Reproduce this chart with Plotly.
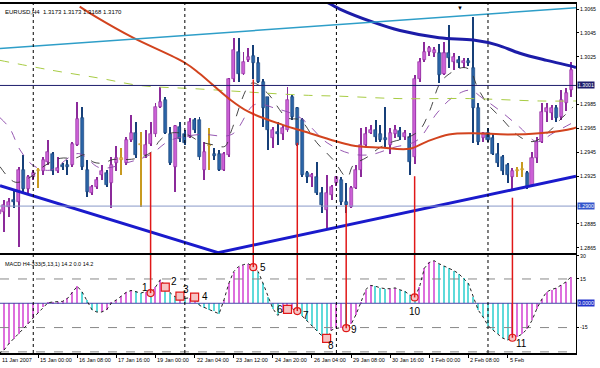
import plotly.graph_objects as go

N = 118
bars = list(range(N))

opens = [1.2893,1.2895,1.2899,1.2905,1.2903,1.2930,1.2914,1.2924,1.2929,1.2929,
         1.2937,1.2944,1.2929,1.2934,1.2934,1.2934,1.2951,1.2974,1.2930,1.2911,
         1.2916,1.2926,1.2928,1.2919,1.2936,1.2939,1.2936,1.2955,1.2961,1.2951,
         1.2943,1.2952,1.2960,1.2983,1.2989,1.2960,1.2933,1.2966,1.2960,1.2958,
         1.2972,1.2972,1.2930,1.2950,1.2944,1.2944,1.2930,1.2943,1.3006,1.3029,
         1.3011,1.3022,1.3026,1.3020,1.3004,1.2991,1.2957,1.2962,1.2960,1.2964,
         1.2991,1.2982,1.2972,1.2928,1.2924,1.2924,1.2911,1.2897,1.2909,1.2919,
         1.2922,1.2903,1.2899,1.2915,1.2930,1.2951,1.2961,1.2964,1.2960,1.2957,
         1.2951,1.2960,1.2963,1.2958,1.2958,1.2941,1.3006,1.3022,1.3029,1.3028,
         1.3028,1.3011,1.3028,1.3021,1.3022,1.3020,1.3021,1.3016,1.2982,1.2957,
         1.2961,1.2957,1.2944,1.2941,1.2934,1.2924,1.2929,1.2930,1.2928,1.2918,
         1.2940,1.2954,1.2979,1.2978,1.2982,1.2975,1.2986,1.2997]
highs = [1.2901,1.2905,1.2907,1.2914,1.2933,1.2943,1.2926,1.2930,1.2932,1.2941,
         1.2955,1.2945,1.2941,1.2936,1.2939,1.2954,1.2987,1.2983,1.2939,1.2918,
         1.2924,1.2934,1.2930,1.2941,1.2950,1.2949,1.2958,1.2976,1.2970,1.2962,
         1.2964,1.2970,1.2986,1.3000,1.2991,1.2966,1.2968,1.2970,1.2964,1.2974,
         1.2974,1.2975,1.2954,1.2965,1.2949,1.2947,1.2945,1.3007,1.3041,1.3041,
         1.3029,1.3032,1.3035,1.3025,1.3006,1.2991,1.2966,1.2970,1.2968,1.3000,
         1.2993,1.2983,1.2974,1.2929,1.2928,1.2937,1.2916,1.2926,1.2918,1.2925,
         1.2924,1.2919,1.2917,1.2934,1.2965,1.2966,1.2968,1.2972,1.2968,1.2983,
         1.2965,1.2968,1.2966,1.2964,1.2961,1.3010,1.3024,1.3037,1.3034,1.3033,
         1.3036,1.3037,1.3052,1.3028,1.3026,1.3024,1.3024,1.3058,1.2986,1.2962,
         1.2965,1.2961,1.2953,1.2943,1.2936,1.2932,1.2933,1.2937,1.2929,1.2945,
         1.2958,1.2986,1.2986,1.2985,1.2985,1.2997,1.2999,1.3021]
lows = [1.2884,1.2878,1.2891,1.2898,1.2866,1.2911,1.2911,1.2922,1.2915,1.2926,
        1.2934,1.2926,1.2928,1.2930,1.2926,1.2933,1.2950,1.2930,1.2908,1.2909,
        1.2914,1.2922,1.2916,1.2898,1.2929,1.2926,1.2934,1.2954,1.2940,1.2899,
        1.2940,1.2950,1.2958,1.2982,1.2960,1.2934,1.2912,1.2954,1.2951,1.2957,
        1.2961,1.2939,1.2922,1.2930,1.2939,1.2929,1.2929,1.2941,1.3004,1.3004,
        1.3010,1.3021,1.3006,1.3003,1.2966,1.2947,1.2949,1.2951,1.2955,1.2962,
        1.2972,1.2950,1.2924,1.2919,1.2916,1.2909,1.2894,1.2882,1.2905,1.2917,
        1.2901,1.2894,1.2898,1.2914,1.2924,1.2950,1.2960,1.2954,1.2954,1.2949,
        1.2944,1.2957,1.2955,1.2955,1.2926,1.2935,1.3004,1.3021,1.3026,1.3025,
        1.3003,1.3010,1.3016,1.3014,1.3016,1.3016,1.3017,1.2953,1.2951,1.2954,
        1.2954,1.2943,1.2933,1.2926,1.2919,1.2914,1.2924,1.2924,1.2914,1.2916,
        1.2936,1.2953,1.2970,1.2972,1.2970,1.2972,1.2980,1.2991]
closes = [1.2897,1.2901,1.2903,1.2903,1.2930,1.2914,1.2924,1.2928,1.2930,1.2939,
          1.2945,1.2929,1.2932,1.2933,1.2933,1.2952,1.2973,1.2933,1.2912,1.2916,
          1.2922,1.2929,1.2918,1.2934,1.2940,1.2940,1.2955,1.2961,1.2943,1.2952,
          1.2951,1.2960,1.2983,1.2987,1.2961,1.2936,1.2967,1.2956,1.2953,1.2970,
          1.2964,1.2941,1.2945,1.2951,1.2942,1.2930,1.2944,1.3006,1.3031,1.3011,
          1.3021,1.3025,1.3020,1.3004,1.2982,1.2964,1.2964,1.2960,1.2965,1.2989,
          1.2975,1.2951,1.2926,1.2924,1.2926,1.2911,1.2901,1.2911,1.2916,1.2924,
          1.2903,1.2901,1.2915,1.2930,1.2951,1.2960,1.2964,1.2958,1.2955,1.2955,
          1.2961,1.2964,1.2958,1.2961,1.2937,1.3006,1.3021,1.3029,1.3032,1.3031,
          1.3010,1.3028,1.3024,1.3025,1.3020,1.3021,1.3020,1.2982,1.2954,1.2961,
          1.2955,1.2944,1.2936,1.2929,1.2926,1.2929,1.2930,1.2931,1.2916,1.2940,
          1.2954,1.2979,1.2982,1.2982,1.2974,1.2989,1.2995,1.3014]
candle_kind = ("mmmbmbmmgm" "mbmbbmmbbm" "mmbmmgmmbg" "mmmmbbmbbm" "bbmgbbmmmb"
               "mmbbbbmbmm" "bbbbmbbmmm" "bbmmmmmbbb" "mmbmbmmmmm" "bmbmbmbbbm"
               "bbbbbmggbm" "mmmmbmmm")

macd = [-31,-29,-25,-22,-19,-15.5,-12.5,-9,-6,-2.5,
        0.3,0.8,0.8,1.2,3,7,10.5,7,1.9,-4,
        -5.4,-5.4,-4,0.2,2.1,4.2,6.7,7.9,7.3,6.3,
        7.2,6.3,10,14.5,11,6.5,4,4.4,3,3.5,
        3.8,-1.3,-2.7,-4,-5,-6.5,2,12.3,19.6,22.7,
        23.9,24.4,22.3,19.6,12.3,4,-3.3,-7.5,-5,-3.8,
        -3.5,-4.8,-8,-11,-14,-17,-20,-21.7,-16.5,-15.5,
        -15,-15.4,-13,-7,0.5,8.5,11,10.5,9.5,9,
        9,9.5,8.3,7.3,5.2,3.6,10.2,21.7,25.2,26.3,
        24.4,23.1,21.7,20.2,18.3,15.4,12.3,4,-4.2,-8.5,
        -13.8,-16.5,-19,-21.5,-22.7,-21.3,-20.6,-19,-15.8,-10.6,
        -3.3,2.5,7,8.5,9.4,11.2,13.3,16.4]

date_tick_bars = [0, 8, 16, 24, 32, 40, 48, 56, 64, 72, 80, 88, 96, 104]
date_tick_labels = ["11 Jan 2007", "15 Jan 00:00", "16 Jan 08:00", "17 Jan 16:00",
                    "19 Jan 00:00", "22 Jan 04:00", "23 Jan 12:00", "24 Jan 20:00",
                    "26 Jan 04:00", "29 Jan 08:00", "30 Jan 16:00", "1 Feb 00:00",
                    "2 Feb 08:00", "5 Feb"]
separator_bars = [7, 38, 69, 100]
price_ticks = [1.2865, 1.2885, 1.2925, 1.2945, 1.2965, 1.2985, 1.3025, 1.3045, 1.3065]

red_ma_x = [16.5, 20, 27.4, 38, 41, 47, 51, 58, 62, 72, 78, 84, 87.5, 92, 97, 104, 110.5, 117.4, 118]
red_ma_y = [1.3067, 1.3058, 1.3041, 1.3020, 1.3011, 1.2990, 1.2979, 1.2968, 1.2963, 1.2951,
            1.2949, 1.2948, 1.2954, 1.2960, 1.2961, 1.2960, 1.2961, 1.2965, 1.2966]
navy_ma_x = [65.5, 66.5, 69.7, 76.5, 82, 90, 97, 101.8, 106.5, 112, 117.2, 118]
navy_ma_y = [1.3074, 1.3072, 1.3065, 1.3054, 1.3047, 1.3041, 1.3039, 1.3035, 1.3028, 1.3022, 1.3017, 1.3016]
green_ma_x = [0.2, 10.4, 20.7, 28.8, 41.1, 61.6, 69.7, 82, 96.3, 110.6, 118]
green_ma_y = [1.3022, 1.3014, 1.3007, 1.3001, 1.2998, 1.2993, 1.2992, 1.2990, 1.2990, 1.2988, 1.2988]
fast_ma_x = [0.2, 3.3, 6.3, 9.4, 12.5, 15.5, 17.6, 19.2, 21.3, 23.3, 26.4, 28.2, 31.1, 32.9, 35.0,
             38.4, 41.1, 44.2, 46.2, 47.6, 51.7, 54.8, 58.9, 61.6, 65.0, 68.3, 71.2, 72.4, 75.3,
             77.9, 80.6, 83.4, 86.1, 88.1, 90.2, 92.2, 94.9, 96.3, 97.8, 99.8, 102.4, 106.5,
             109.2, 112.1, 114.7, 117.4]
fast_ma_y = [1.2933, 1.2920, 1.2924, 1.2934, 1.2940, 1.2940, 1.2943, 1.2937, 1.2936, 1.2939, 1.2939,
             1.2940, 1.2945, 1.2955, 1.2961, 1.2960, 1.2954, 1.2951, 1.2950, 1.2964, 1.3003, 1.2995,
             1.2974, 1.2972, 1.2953, 1.2939, 1.2924, 1.2934, 1.2941, 1.2949, 1.2954, 1.2957, 1.2964,
             1.2980, 1.3003, 1.3011, 1.3016, 1.3014, 1.3000, 1.2986, 1.2975, 1.2958, 1.2954, 1.2961,
             1.2972, 1.2983]
slow_ma_x = [0.2, 2.2, 4.3, 7.0, 10.4, 16.2, 20.7, 26.8, 30.9, 35.0, 41.1, 47.6, 52.3, 56.4, 61.6,
             67.1, 71.8, 75.9, 80.6, 85.5, 89.6, 92.8, 96.3, 99.0, 102.4, 106.5, 110.0, 113.3, 117.4]
slow_ma_y = [1.2974, 1.2965, 1.2947, 1.2934, 1.2930, 1.2944, 1.2932, 1.2937, 1.2943, 1.2955, 1.2960,
             1.2960, 1.2985, 1.2982, 1.2974, 1.2953, 1.2944, 1.2943, 1.2949, 1.2955, 1.2978, 1.2991,
             1.2997, 1.2990, 1.2980, 1.2966, 1.2954, 1.2961, 1.2970]
cyan_line_x = [0.2, 118.0]
cyan_line_y = [1.3032, 1.3066]
support_x = [0.2, 44.8, 118.0]
support_y = [1.2917, 1.2861, 1.2925]
bid_level = 1.3001
low_level = 1.2900

signal_bars = [31, 52, 61, 71, 85, 105]
signal_price = [1.2945, 1.3006, 1.2953, 1.2901, 1.2925, 1.2907]
signal_macd = [6.3, 22.3, -4.8, -15.4, 3.6, -21.3]

marker_bars = [31, 34, 37, 40, 52, 59, 61, 67, 71, 85, 105]
marker_vals = [6.3, 10, 4.4, 3.8, 22.3, -3.8, -4.8, -21.7, -15.4, 3.6, -21.3]
marker_shapes = ["circle", "square", "square", "square", "circle", "square",
                 "circle", "square", "circle", "circle", "circle"]
marker_labels = ["1", "2", "3", "4", "5", "6", "7", "8", "9", "10", "11"]
label_offsets = [(-6, 6), (9, 6), (6, 7), (10, 1), (10, 0), (-8, 0),
                 (9, -4), (4, -7), (8, -1), (0, -14), (9, -6)]

FONT = "Liberation Sans, Arial, sans-serif"
FILL = {"m": "#cc60d6", "b": "#2a64a6", "g": "#e8b84a"}
EDGE = {"m": "#8b2a9a", "b": "#163f78", "g": "#c89a20"}

fig = go.Figure()

fig.add_trace(go.Bar(x=bars, base=lows, y=[h - l for h, l in zip(highs, lows)],
                     width=0.2, marker=dict(color=[EDGE[k] for k in candle_kind], line=dict(width=0)),
                     xaxis="x", yaxis="y", hoverinfo="skip"))
fig.add_trace(go.Bar(x=bars, base=[min(o, c) for o, c in zip(opens, closes)],
                     y=[max(abs(c - o), 0.00012) for o, c in zip(opens, closes)],
                     width=0.62,
                     marker=dict(color=[FILL[k] for k in candle_kind],
                                 line=dict(color=[EDGE[k] for k in candle_kind], width=0.6)),
                     xaxis="x", yaxis="y", hoverinfo="skip"))

def line(x, y, color, width, dash="solid", shape="linear", xa="x", ya="y"):
    fig.add_trace(go.Scatter(x=x, y=y, mode="lines", line=dict(color=color, width=width, dash=dash, shape=shape),
                             xaxis=xa, yaxis=ya, hoverinfo="skip"))

line(slow_ma_x, slow_ma_y, "#8a45a8", 0.9, "dash", "spline")
line(fast_ma_x, fast_ma_y, "#333333", 0.9, "dash", "spline")
line(green_ma_x, green_ma_y, "#a8cc44", 1, "dash", "spline")
line(red_ma_x, red_ma_y, "#d2431e", 2, "solid", "spline")
line(navy_ma_x, navy_ma_y, "#1c1ca8", 3, "solid", "spline")
line(cyan_line_x, cyan_line_y, "#2e9ec8", 1.5)
line(support_x, support_y, "#1a1acc", 3)
line([0.2, 118], [bid_level, bid_level], "#1c1c6c", 1)
line([0.2, 118], [low_level, low_level], "#8898c8", 1)

hist_colors = ["#dd6fdd" if (i == 0 or macd[i] >= macd[i - 1]) else "#5fdada" for i in range(N)]
fig.add_trace(go.Bar(x=bars, y=macd, width=0.22, marker=dict(color=hist_colors, line=dict(width=0)),
                     xaxis="x2", yaxis="y2", hoverinfo="skip"))
for lv in (15, -15, -30):
    line([0.2, 118], [lv, lv], "#888888", 1, "dash", xa="x2", ya="y2")
line([0.2, 118], [0, 0], "#4848a8", 1, xa="x2", ya="y2")
line(bars, macd, "#222222", 1, "dot", xa="x2", ya="y2")

shapes = []
for b in separator_bars:
    shapes.append(dict(type="line", xref="x", yref="paper", x0=b, x1=b, y0=0, y1=1,
                       line=dict(color="black", width=1, dash="dot")))
for b, p, v in zip(signal_bars, signal_price, signal_macd):
    shapes.append(dict(type="line", xref="x", yref="y", x0=b, x1=b, y0=p, y1=1.2850,
                       line=dict(color="#e01818", width=1.5)))
    shapes.append(dict(type="line", xref="x2", yref="y2", x0=b, x1=b, y0=31, y1=v,
                       line=dict(color="#e01818", width=1.5)))

for shp in ("circle", "square"):
    xs = [b for b, s in zip(marker_bars, marker_shapes) if s == shp]
    ys = [v for v, s in zip(marker_vals, marker_shapes) if s == shp]
    fig.add_trace(go.Scatter(x=xs, y=ys, mode="markers",
                             marker=dict(symbol=shp, size=7 if shp == "circle" else 8, color="#f6c4c4",
                                         line=dict(color="#e01818", width=1.2)),
                             xaxis="x2", yaxis="y2", hoverinfo="skip"))

ann = []
for b, v, t, (dx, dy) in zip(marker_bars, marker_vals, marker_labels, label_offsets):
    ann.append(dict(x=b, y=v, xref="x2", yref="y2", text=t, showarrow=False, xshift=dx, yshift=dy,
                    font=dict(family=FONT, size=10, color="black")))
for b, t in zip(date_tick_bars, date_tick_labels):
    ann.append(dict(x=max(b, 0.3), y=0, xref="x2", yref="paper", text=t, showarrow=False, xanchor="left",
                    yanchor="top", xshift=0, yshift=-2, font=dict(family=FONT, size=5.5, color="black")))
ann.append(dict(x=0, y=1, xref="paper", yref="paper", xanchor="left", yanchor="top", xshift=3, yshift=-3,
                text="EURUSD,H4  1.3173 1.3173 1.3168 1.3170", showarrow=False,
                font=dict(family=FONT, size=6, color="black")))
ann.append(dict(x=0, y=0.2808, xref="paper", yref="paper", xanchor="left", yanchor="top", xshift=3, yshift=-4,
                text="MACD H4-333(5,13,1) 14.2 0.0 14.2", showarrow=False,
                font=dict(family=FONT, size=5.5, color="black")))
for val, txt, bg, yr in ((bid_level, "1.3001", "#1c1c6c", "y"), (low_level, "1.2900", "#3355cc", "y"), (0, "0.0000", "#2233cc", "y2")):
    ann.append(dict(x=1, y=val, xref="paper", yref=yr, xanchor="left", text=txt, showarrow=False, xshift=1,
                    bgcolor=bg, borderpad=0, font=dict(family=FONT, size=5.2, color="white")))
ann.append(dict(x=94.3, y=1, xref="x", yref="paper", yanchor="top", text="▼", showarrow=False, yshift=1,
                font=dict(family=FONT, size=6, color="black")))

axis_common = dict(showgrid=False, zeroline=False, automargin=False)
fig.update_layout(
    width=600, height=368, margin=dict(l=0, r=24, t=4, b=15, autoexpand=False),
    paper_bgcolor="white", plot_bgcolor="white", showlegend=False,
    barmode="overlay", bargap=0, shapes=shapes, annotations=ann,
    xaxis=dict(domain=[0, 1], range=[0.2, 118.0], anchor="y", showticklabels=False, ticks="",
               showline=True, mirror=True, linecolor="black", linewidth=1.5, **axis_common),
    yaxis=dict(domain=[0.2865, 1], range=[1.28607, 1.30692], side="right", anchor="x",
               tickvals=price_ticks, tickformat=".4f", ticks="outside", ticklen=2, tickcolor="black",
               tickfont=dict(family=FONT, size=5.2, color="black"),
               showline=True, linecolor="black", linewidth=1, **axis_common),
    xaxis2=dict(domain=[0, 1], range=[0.2, 118.0], anchor="y2", tickvals=date_tick_bars, showticklabels=False,
                ticks="outside", ticklen=3, tickcolor="black",
                showline=True, mirror=True, linecolor="black", linewidth=1.5, **axis_common),
    yaxis2=dict(domain=[0, 0.2808], range=[-30.7, 29.8], side="right", anchor="x2",
                tickvals=[29.2, 15, -15], ticktext=["30", "15", "-15"], ticks="outside", ticklen=2, tickcolor="black",
                tickfont=dict(family=FONT, size=5.2, color="black"),
                showline=True, linecolor="black", linewidth=1, **axis_common),
)

fig.write_html("out.html", config={"displayModeBar": False},
               post_script="document.body.style.margin='0px';document.body.style.padding='0px';")
